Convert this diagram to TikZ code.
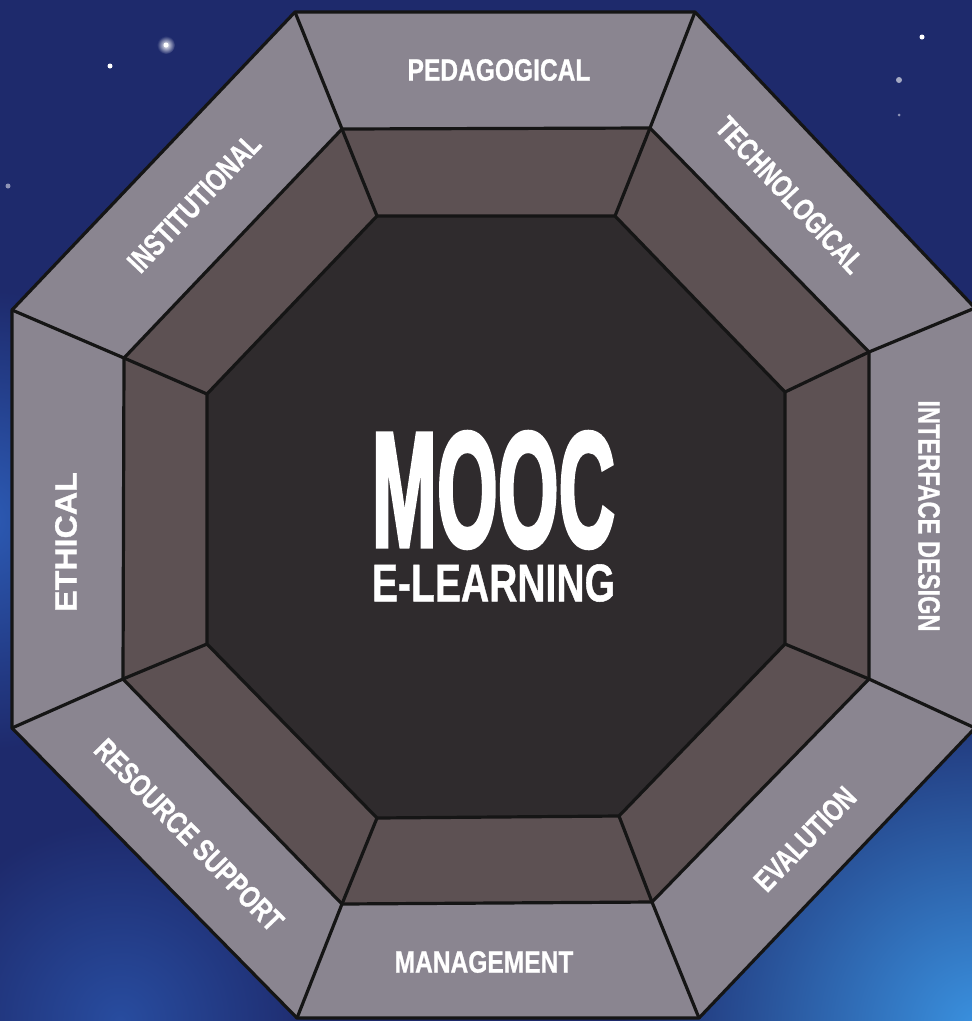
\documentclass[tikz,border=0pt]{standalone}
\usepackage{fontspec}
\setmainfont{Liberation Sans}
\newfontfamily\moocfont[FakeBold=3]{Liberation Sans Bold}
\newfontfamily\labfont[FakeBold=1]{Liberation Sans Bold}
\definecolor{navy}{HTML}{1E2A6C}
\definecolor{brightblue}{HTML}{3A92E0}
\definecolor{midblue}{HTML}{2C5BB5}
\definecolor{ringgrey}{HTML}{8A8590}
\definecolor{ringbrown}{HTML}{5D5153}
\definecolor{coredark}{HTML}{2F2B2D}
\definecolor{edge}{HTML}{151515}
\tikzset{
  seg/.style={draw=edge, line width=3.2pt, line join=round},
  lab/.style={text=white, inner sep=0pt, font=\fontsize{30.7}{32}\labfont},
  star/.style={fill=white}
}
\newcommand{\sq}[2]{\scalebox{#1}[1]{#2}}
\begin{document}
\begin{tikzpicture}[x=1pt,y=-1pt]
\clip (0,0) rectangle (972,1021);
\fill[navy] (0,0) rectangle (972,1021);
\shade[inner color=brightblue, outer color=navy] (980,1030) circle (360);
\shade[inner color=midblue, outer color=navy] (-20,520) circle (230);
\shade[inner color=midblue!70!navy, outer color=navy] (120,1021) circle (200);
% stars
\shade[inner color=white, outer color=navy] (166,45) circle (9);
\fill[star] (166,45) circle (2.5);
\fill[star] (110,66) circle (2.5);
\fill[star] (922,37) circle (2.5);
\fill[white!60!navy] (899,80) circle (3);
\fill[white!50!navy] (8,186) circle (2.5);
\fill[white!50!navy] (899,115) circle (1.5);
% octagon vertices
\coordinate (O1) at (295,12);  \coordinate (O2) at (695,12);
\coordinate (O3) at (975,308); \coordinate (O4) at (975,728);
\coordinate (O5) at (699,1018);\coordinate (O6) at (297,1018);
\coordinate (O7) at (12,728);  \coordinate (O8) at (12,310);
\coordinate (M1) at (342,129); \coordinate (M2) at (650,128);
\coordinate (M3) at (869,352); \coordinate (M4) at (869,679);
\coordinate (M5) at (652,902); \coordinate (M6) at (342,904);
\coordinate (M7) at (123,679); \coordinate (M8) at (124,358);
\coordinate (I1) at (377,216); \coordinate (I2) at (615,216);
\coordinate (I3) at (785,392); \coordinate (I4) at (785,644);
\coordinate (I5) at (619,816); \coordinate (I6) at (377,818);
\coordinate (I7) at (207,644); \coordinate (I8) at (207,394);
\fill[ringgrey] (O1)--(O2)--(O3)--(O4)--(O5)--(O6)--(O7)--(O8)--cycle;
\fill[ringbrown] (M1)--(M2)--(M3)--(M4)--(M5)--(M6)--(M7)--(M8)--cycle;
\fill[coredark] (I1)--(I2)--(I3)--(I4)--(I5)--(I6)--(I7)--(I8)--cycle;
\draw[seg] (O1)--(O2)--(O3)--(O4)--(O5)--(O6)--(O7)--(O8)--cycle;
\draw[seg] (M1)--(M2)--(M3)--(M4)--(M5)--(M6)--(M7)--(M8)--cycle;
\draw[seg] (I1)--(I2)--(I3)--(I4)--(I5)--(I6)--(I7)--(I8)--cycle;
\foreach \k in {1,...,8}{\draw[seg] (O\k)--(M\k)--(I\k);}
% labels
\node[lab] (ped) at (499,70) {\sq{0.8}{PEDAGOGICAL}};
\node[lab, rotate=-47] (tech) at (790,195) {\sq{0.75}{TECHNOLOGICAL}};
\node[lab, rotate=-90] (intf) at (929,516) {\sq{0.77}{INTERFACE DESIGN}};
\node[lab, rotate=46] (eval) at (805,839) {\sq{0.75}{EVALUTION}};
\node[lab] (mgmt) at (484,962) {\sq{0.8}{MANAGEMENT}};
\node[lab, rotate=-45.6] (res) at (189,835) {\sq{0.77}{RESOURCE SUPPORT}};
\node[lab, rotate=90] (eth) at (66,542) {\sq{1.05}{ETHICAL}};
\node[lab, rotate=46.5] (inst) at (194,203) {\sq{0.76}{INSTITUTIONAL}};
\node[text=white, inner sep=0pt] (mooc) at (493.5,490) {\resizebox{243pt}{114pt}{\moocfont MOOC}};
\node[text=white, inner sep=0pt] (elearn) at (493.5,583) {\resizebox{243pt}{37pt}{\labfont E-LEARNING}};
\end{tikzpicture}
\end{document}
